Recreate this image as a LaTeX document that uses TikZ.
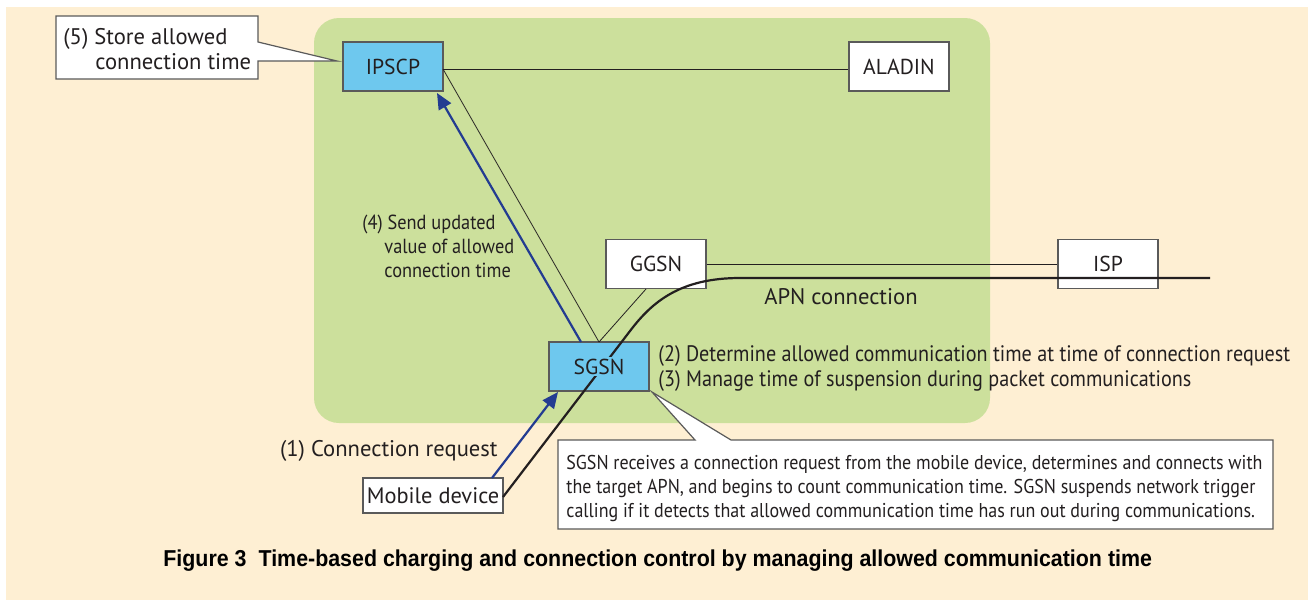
\documentclass[tikz,border=0pt]{standalone}
\usepackage{fontspec}
\setmainfont{PT Sans}
\newfontfamily\condfont[FakeStretch=0.9]{PT Sans}
\newfontfamily\capfont[FakeStretch=0.93]{Liberation Sans}
\usetikzlibrary{arrows.meta}
\definecolor{cream}{RGB}{254,239,211}
\definecolor{panel}{RGB}{204,224,156}
\definecolor{boxblue}{RGB}{110,200,238}
\definecolor{arrblue}{RGB}{35,60,145}
\definecolor{ink}{RGB}{35,31,32}
\definecolor{frame}{RGB}{90,90,90}
\begin{document}
\begin{tikzpicture}[x=0.5pt,y=-0.5pt,
  netbox/.style={draw=frame, line width=0.6pt, fill=white, minimum width=50pt, minimum height=24.5pt, inner sep=0pt, text=ink, font=\fontsize{10.8}{12}\selectfont},
  bluebox/.style={netbox, fill=boxblue},
  thinline/.style={draw=ink, line width=0.4pt},
  msg/.style={draw=arrblue, line width=1.1pt, -{Triangle[length=8pt,width=7pt]}},
  apn/.style={draw=ink, line width=1.1pt},
  calloutshape/.style={draw=frame, line width=0.6pt, fill=white},
  lbl/.style={text=ink, inner sep=0pt, font=\fontsize{11.3}{12.5}\selectfont},
  clbl/.style={text=ink, inner sep=0pt, align=left, font=\condfont\fontsize{10.2}{12}\selectfont},
]
\useasboundingbox (0,0) rectangle (1308,600);
\fill[white] (0,0) rectangle (1308,600);
\fill[cream] (6,7) rectangle (1308,600);
% green panel
\fill[panel, rounded corners=12.5pt] (314,18) rectangle (990,423);

% nodes
\node[bluebox] (ipscp) at (393,66.5) {IPSCP};
\node[netbox] (aladin) at (899,66.5) {ALADIN};
\node[netbox] (ggsn) at (656,264) {GGSN};
\node[netbox] (isp) at (1108,264) {ISP};
\node[bluebox] (sgsn) at (599,366.5) {};
\node[netbox, minimum width=70pt, minimum height=17.5pt, font=\fontsize{11.2}{12}\selectfont] (mobile) at (433,495.5) {Mobile device};

% connectors
\coordinate (ipE) at (443,69);
\coordinate (sgTop) at (599,342);
\draw[thinline] (ipE) -- (aladin.west |- ipE);
\draw[thinline] (ipE) -- (sgTop);
\draw[thinline] (sgTop) -- (646,289);
\draw[thinline] (ggsn.east) -- (isp.west);

% APN connection
\coordinate (apnEnd) at (1210,278);
\draw[apn] (503,497) -- (630,331) .. controls (652,302) and (680,278) .. (740,278) -- (apnEnd);
\node[lbl] (apnlbl) at (841,297) {APN connection};

% SGSN label over line
\node[text=ink, fill=boxblue, inner sep=1pt, font=\fontsize{10.8}{12}\selectfont] (sgsnlbl) at (sgsn) {SGSN};

% message arrows
\draw[msg] (492,478) -- (558,392);
\draw[msg] (581,342) -- (437,93);

% labels
\node[lbl, anchor=east] (l1) at (498,451) {(1) Connection request};
\node[clbl, anchor=north west] (l4) at (362,215) {(4) Send updated\\\hspace*{11pt}value of allowed\\\hspace*{11pt}connection time};
\node[clbl, anchor=west, font=\condfont\fontsize{11.2}{12}\selectfont] (l2) at (658,356) {(2) Determine allowed communication time at time of connection request};
\node[clbl, anchor=west, font=\condfont\fontsize{11.2}{12}\selectfont] (l3) at (658,381) {(3) Manage time of suspension during packet communications};

% callout (5)
\draw[calloutshape] (56,16) -- (258,16) -- (258,42) -- (337,61) -- (258,61) -- (258,79) -- (56,79) -- cycle;
\node[lbl, align=left, anchor=north west] (l5) at (63,28) {(5) Store allowed\\\hspace*{16pt}connection time};

% explanation callout
\draw[calloutshape] (558,440) -- (695,440) -- (652,392) -- (731,440) -- (1273,440) -- (1273,529) -- (558,529) -- cycle;
\node[clbl, anchor=north west, font=\condfont\fontsize{10}{12}\selectfont] (expl) at (566,455) {SGSN receives a connection request from the mobile device, determines and connects with\\the target APN, and begins to count communication time. SGSN suspends network trigger\\calling if it detects that allowed communication time has run out during communications.};

% caption
\node[text=black, inner sep=0pt, anchor=west, font=\capfont\bfseries\fontsize{11.5}{12}\selectfont] (cap) at (163,561) {Figure 3\hspace{6pt}Time-based charging and connection control by managing allowed communication time};
\end{tikzpicture}
\end{document}
